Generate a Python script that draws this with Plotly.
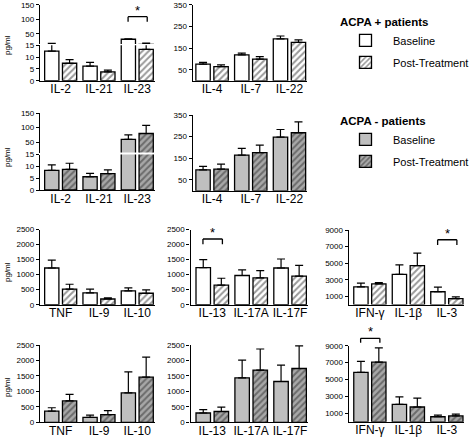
import plotly.graph_objects as go

W, H = 474, 440
FONT = "Liberation Sans, Arial, Helvetica, sans-serif"

# ---------------- data (pg/ml: mean and upper error) ----------------
cats_row1_left = ["IL-2", "IL-21", "IL-23"]
cats_row1_mid = ["IL-4", "IL-7", "IL-22"]
cats_row3_left = ["TNF", "IL-9", "IL-10"]
cats_row3_mid = ["IL-13", "IL-17A", "IL-17F"]
cats_row3_right = ["IFN-γ", "IL-1β", "IL-3"]

# ACPA + patients
pos_il2_base = [12.5, 6.2, 31.0]
pos_il2_base_err = [4.0, 1.6, 1.0]
pos_il2_post = [7.4, 3.7, 13.3]
pos_il2_post_err = [1.5, 0.8, 4.7]

pos_il4_base = [77, 119, 193]
pos_il4_base_err = [8, 8, 13]
pos_il4_post = [65, 100, 177]
pos_il4_post_err = [8, 11, 11]

pos_tnf_base = [1220, 390, 460]
pos_tnf_base_err = [260, 130, 100]
pos_tnf_post = [520, 190, 380]
pos_tnf_post_err = [160, 35, 110]

pos_il13_base = [1230, 970, 1220]
pos_il13_base_err = [270, 190, 300]
pos_il13_post = [650, 890, 950]
pos_il13_post_err = [230, 240, 360]

pos_ifn_base = [2150, 3650, 1550]
pos_ifn_base_err = [450, 1150, 550]
pos_ifn_post = [2500, 4700, 720]
pos_ifn_post_err = [150, 1500, 200]

# ACPA - patients
neg_il2_base = [8.3, 5.6, 60]
neg_il2_base_err = [2.3, 1.4, 15]
neg_il2_post = [8.7, 6.9, 80]
neg_il2_post_err = [2.6, 1.6, 28]

neg_il4_base = [97, 165, 248]
neg_il4_base_err = [16, 31, 35]
neg_il4_post = [100, 176, 268]
neg_il4_post_err = [23, 35, 50]

neg_tnf_base = [360, 160, 950]
neg_tnf_base_err = [110, 70, 680]
neg_tnf_post = [690, 250, 1460]
neg_tnf_post_err = [210, 130, 650]

neg_il13_base = [300, 1440, 1320]
neg_il13_base_err = [110, 570, 530]
neg_il13_post = [350, 1690, 1740]
neg_il13_post_err = [140, 680, 730]

neg_ifn_base = [5850, 2050, 600]
neg_ifn_base_err = [1300, 900, 180]
neg_ifn_post = [7050, 1750, 700]
neg_ifn_post_err = [1700, 1050, 200]

# significant Baseline vs Post-Treatment comparisons
significant = [("pos_il2", "IL-23"), ("pos_il13", "IL-13"),
               ("pos_ifn", "IL-3"), ("neg_ifn", "IFN-γ")]

# ---------------- layout / style ----------------
def fx(x):
    return x / W


def fy(y):
    return 1 - y / H


STYLE = {
    "pos": dict(
        base=dict(color="white", line=dict(color="black", width=1.3)),
        post=dict(color="white", line=dict(color="black", width=1.3),
                  pattern=dict(shape="/", fgcolor="#333333", bgcolor="white",
                               size=4.5, solidity=0.45)),
    ),
    "neg": dict(
        base=dict(color="#bfbfbf", line=dict(color="black", width=1.3)),
        post=dict(color="#a0a0a0", line=dict(color="black", width=1.3),
                  pattern=dict(shape="/", fgcolor="#2e2e2e", bgcolor="#a8a8a8",
                               size=4.5, solidity=0.45)),
    ),
}

panels = [
    dict(key="pos_il2", cats=cats_row1_left, grp="pos",
         data=(pos_il2_base, pos_il2_base_err, pos_il2_post, pos_il2_post_err),
         x=(40, 154.5), xr=[-0.54, 2.45], legend="legend",
         segs=[dict(y=(45.3, 80.7), r=[0, 15], tv=[0, 5, 10, 15]),
               dict(y=(4.7, 43.9), r=[15, 150], tv=[50, 100, 150])]),
    dict(key="pos_il4", cats=cats_row1_mid, grp="pos",
         data=(pos_il4_base, pos_il4_base_err, pos_il4_post, pos_il4_post_err),
         x=(192.7, 306.9), xr=[-0.5, 2.45],
         segs=[dict(y=(4.7, 80.8), r=[0, 350], tv=[50, 150, 250, 350])]),
    dict(key="neg_il2", cats=cats_row1_left, grp="neg",
         data=(neg_il2_base, neg_il2_base_err, neg_il2_post, neg_il2_post_err),
         x=(40, 154.5), xr=[-0.54, 2.45], legend="legend2",
         segs=[dict(y=(154.5, 190), r=[0, 15], tv=[0, 5, 10, 15]),
               dict(y=(113, 152.5), r=[15, 150], tv=[50, 100, 150])]),
    dict(key="neg_il4", cats=cats_row1_mid, grp="neg",
         data=(neg_il4_base, neg_il4_base_err, neg_il4_post, neg_il4_post_err),
         x=(192.7, 306.9), xr=[-0.5, 2.45],
         segs=[dict(y=(115, 190.8), r=[0, 350], tv=[50, 150, 250, 350])]),
    dict(key="pos_tnf", cats=cats_row3_left, grp="pos",
         data=(pos_tnf_base, pos_tnf_base_err, pos_tnf_post, pos_tnf_post_err),
         x=(40, 154.5), xr=[-0.54, 2.45],
         segs=[dict(y=(229.5, 304.7), r=[0, 2500], tv=[0, 500, 1000, 1500, 2000, 2500])]),
    dict(key="pos_il13", cats=cats_row3_mid, grp="pos",
         data=(pos_il13_base, pos_il13_base_err, pos_il13_post, pos_il13_post_err),
         x=(190.5, 307.6), xr=[-0.56, 2.45],
         segs=[dict(y=(229.5, 304.7), r=[0, 2500], tv=[0, 500, 1000, 1500, 2000, 2500])]),
    dict(key="pos_ifn", cats=cats_row3_right, grp="pos",
         data=(pos_ifn_base, pos_ifn_base_err, pos_ifn_post, pos_ifn_post_err),
         x=(348.7, 464.2), xr=[-0.55, 2.45],
         segs=[dict(y=(230, 304.6), r=[0, 9000], tv=[1000, 3000, 5000, 7000, 9000])]),
    dict(key="neg_tnf", cats=cats_row3_left, grp="neg",
         data=(neg_tnf_base, neg_tnf_base_err, neg_tnf_post, neg_tnf_post_err),
         x=(40, 154.5), xr=[-0.54, 2.45],
         segs=[dict(y=(345, 422.3), r=[0, 2500], tv=[0, 500, 1000, 1500, 2000, 2500])]),
    dict(key="neg_il13", cats=cats_row3_mid, grp="neg",
         data=(neg_il13_base, neg_il13_base_err, neg_il13_post, neg_il13_post_err),
         x=(190.5, 307.6), xr=[-0.56, 2.45],
         segs=[dict(y=(345, 422.3), r=[0, 2500], tv=[0, 500, 1000, 1500, 2000, 2500])]),
    dict(key="neg_ifn", cats=cats_row3_right, grp="neg",
         data=(neg_ifn_base, neg_ifn_base_err, neg_ifn_post, neg_ifn_post_err),
         x=(348.7, 464.2), xr=[-0.55, 2.45],
         segs=[dict(y=(345.7, 421.8), r=[0, 9000], tv=[1000, 3000, 5000, 7000, 9000])]),
]

# bracket placement: (segment index, top fraction of axis domain, leg-bottom fraction)
bracket_pos = {
    "pos_il2": (1, 0.694, 0.566),
    "pos_il13": (0, 0.874, 0.803),
    "pos_ifn": (0, 0.869, 0.800),
    "neg_ifn": (0, 1.097, 1.039),
}

# y-title rows (pixel centres)
ytitle_rows = [45, 157, 272, 387]

fig = go.Figure()
layout = {}
shapes = []
annotations = []
axis_ids = {}

xn = 0
yn = 0
for p in panels:
    xn += 1
    xname = "x" if xn == 1 else f"x{xn}"
    xkey = "xaxis" if xn == 1 else f"xaxis{xn}"
    seg_ynames = []
    for si, seg in enumerate(p["segs"]):
        yn += 1
        yname = "y" if yn == 1 else f"y{yn}"
        ykey = "yaxis" if yn == 1 else f"yaxis{yn}"
        seg_ynames.append(yname)
        layout[ykey] = dict(
            domain=[fy(seg["y"][1]), fy(seg["y"][0])], range=seg["r"],
            anchor=xname, tickvals=seg["tv"], showline=True, linecolor="black",
            linewidth=1.3, ticks="outside", ticklen=3, tickwidth=1, tickcolor="black",
            tickfont=dict(size=8, color="black", family=FONT), showgrid=False,
            zeroline=False, fixedrange=True,
        )
        base, base_err, post, post_err = p["data"]
        st = STYLE[p["grp"]]
        show = ("legend" in p) and si == 0
        for name, vals, errs, mk, lg in (("Baseline", base, base_err, st["base"], "b"),
                                         ("Post-Treatment", post, post_err, st["post"], "p")):
            fig.add_trace(go.Bar(
                x=p["cats"], y=vals, name=name, marker=mk,
                error_y=dict(type="data", array=errs, arrayminus=[0] * len(errs),
                             symmetric=False, color="black", thickness=1.2, width=4),
                xaxis=xname, yaxis=yname, showlegend=show,
                legend=p.get("legend", "legend"), legendgroup=p["key"][:3] + lg,
            ))
    layout[xkey] = dict(
        domain=[fx(p["x"][0]), fx(p["x"][1])], range=p["xr"], anchor=seg_ynames[0],
        showline=True, linecolor="black", linewidth=1.3, ticks="", tickangle=0,
        ticklabelstandoff=-3,
        tickfont=dict(size=12, color="black", family=FONT), showgrid=False,
        zeroline=False, fixedrange=True,
    )
    axis_ids[p["key"]] = (xname, seg_ynames, p["cats"])

for key, cat in significant:
    xname, ynames, cats = axis_ids[key]
    si, top, leg = bracket_pos[key]
    yref = ynames[si] + " domain"
    i = cats.index(cat)
    x0, x1 = i - 0.24, i + 0.26
    line = dict(color="black", width=1.3)
    shapes.append(dict(type="line", xref=xname, yref=yref, x0=x0, x1=x1, y0=top, y1=top, line=line))
    shapes.append(dict(type="line", xref=xname, yref=yref, x0=x0, x1=x0, y0=leg, y1=top, line=line))
    shapes.append(dict(type="line", xref=xname, yref=yref, x0=x1, x1=x1, y0=leg, y1=top, line=line))
    annotations.append(dict(text="*", xref=xname, yref=yref, x=(x0 + x1) / 2, y=top,
                            yanchor="bottom", xanchor="center", showarrow=False, yshift=-3,
                            font=dict(size=13, color="black", family=FONT)))

for yc in ytitle_rows:
    annotations.append(dict(text="pg/ml", xref="paper", yref="paper", x=fx(7), y=fy(yc),
                            textangle=-90, showarrow=False, xanchor="center", yanchor="middle",
                            font=dict(size=8, color="black", family=FONT)))

legend_common = dict(
    xanchor="left", yanchor="top", font=dict(size=11, color="black", family=FONT),
    traceorder="grouped", tracegroupgap=3, bgcolor="rgba(0,0,0,0)", borderwidth=0,
    itemwidth=45,
)
layout["legend"] = dict(legend_common, x=fx(338), y=fy(11),
                        title=dict(text="<b>ACPA + patients</b>",
                                   font=dict(size=11.5, color="black", family=FONT)))
layout["legend2"] = dict(legend_common, x=fx(338), y=fy(110),
                         title=dict(text="<b>ACPA - patients</b>",
                                    font=dict(size=11.5, color="black", family=FONT)))

fig.update_layout(
    width=W, height=H, margin=dict(l=0, r=0, t=0, b=0, autoexpand=False),
    paper_bgcolor="white", plot_bgcolor="white",
    barmode="group", bargap=0.07, bargroupgap=0.2,
    font=dict(family=FONT, color="black"),
    shapes=shapes, annotations=annotations, **layout,
)

fig.write_html("out.html", config={"displayModeBar": False},
               post_script="document.body.style.margin='0';document.body.style.padding='0';")
